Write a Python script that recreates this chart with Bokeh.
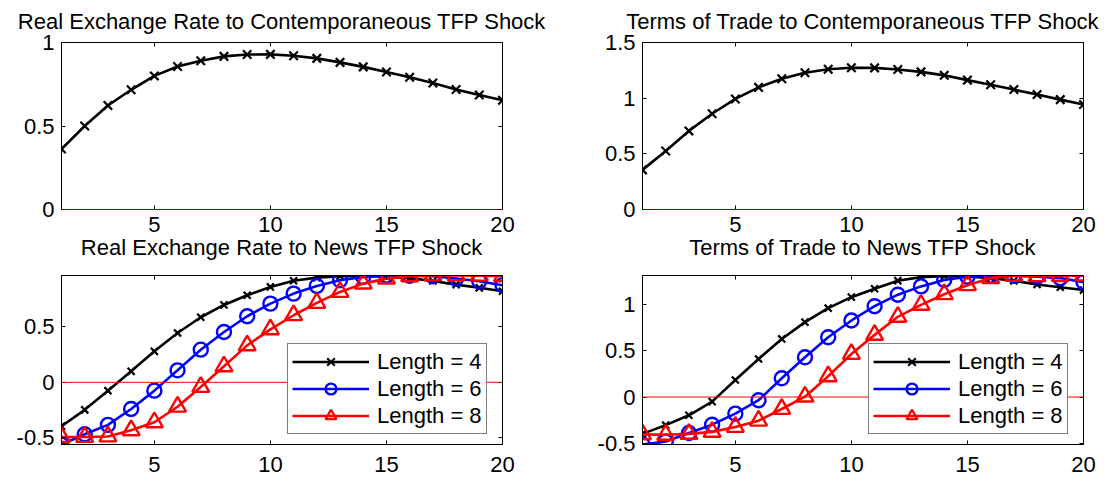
from bokeh.plotting import figure
from bokeh.layouts import column, row
from bokeh.models import (Range1d, FixedTicker, LinearAxis, NumeralTickFormatter, Title,
                          Span, Legend, LegendItem, CustomLabelingPolicy)
from bokeh.embed import file_html
from bokeh.resources import INLINE

# ---- data -------------------------------------------------------------
horizon = list(range(1, 21))

rer_contemp = [0.362, 0.500, 0.623, 0.717, 0.800, 0.856, 0.891, 0.917, 0.928, 0.929,
               0.921, 0.905, 0.881, 0.854, 0.823, 0.792, 0.757, 0.719, 0.686, 0.654]
tot_contemp = [0.356, 0.525, 0.706, 0.860, 0.993, 1.097, 1.174, 1.228, 1.260, 1.273,
               1.272, 1.257, 1.236, 1.205, 1.162, 1.121, 1.077, 1.032, 0.987, 0.943]

rer_news_l4 = [-0.395, -0.248, -0.075, 0.099, 0.279, 0.444, 0.586, 0.697, 0.784, 0.859,
               0.915, 0.943, 0.955, 0.957, 0.951, 0.938, 0.913, 0.880, 0.851, 0.820]
rer_news_l6 = [-0.560, -0.468, -0.383, -0.240, -0.075, 0.108, 0.294, 0.453, 0.595, 0.709,
               0.799, 0.868, 0.919, 0.948, 0.960, 0.960, 0.955, 0.935, 0.910, 0.875]
rer_news_l8 = [-0.492, -0.492, -0.488, -0.432, -0.360, -0.220, -0.042, 0.144, 0.333, 0.477,
               0.604, 0.715, 0.814, 0.889, 0.934, 0.955, 0.962, 0.962, 0.960, 0.955]

tot_news_l4 = [-0.400, -0.305, -0.198, -0.050, 0.185, 0.413, 0.630, 0.812, 0.964, 1.083,
               1.174, 1.262, 1.300, 1.310, 1.308, 1.290, 1.260, 1.220, 1.190, 1.160]
tot_news_l6 = [-0.515, -0.482, -0.390, -0.300, -0.180, -0.035, 0.203, 0.431, 0.649, 0.830,
               0.985, 1.110, 1.200, 1.270, 1.305, 1.316, 1.315, 1.305, 1.290, 1.246]
tot_news_l8 = [-0.405, -0.410, -0.400, -0.378, -0.325, -0.257, -0.130, 0.004, 0.225, 0.467,
               0.674, 0.870, 1.000, 1.115, 1.213, 1.290, 1.315, 1.310, 1.312, 1.318]

x_ticks = [5, 10, 15, 20]
legend_labels = ["Length = 4", "Length = 6", "Length = 8"]

FONT = "Liberation Sans"
FS = "22px"


def title_box(text, standoff):
    return Title(text=text, align="center", vertical_align="top", standoff=standoff,
                 text_font=FONT, text_font_size=FS, text_font_style="normal",
                 text_color="black")


def make_panel(ylo, yhi, yticks, width, height, left, right, top, bottom, xlabel_gap):
    p = figure(width=width, height=height, x_range=Range1d(1, 20), y_range=Range1d(ylo, yhi),
               output_backend="svg", toolbar_location=None,
               min_border_left=left, min_border_right=right,
               min_border_top=top, min_border_bottom=bottom)
    p.xgrid.visible = False
    p.ygrid.visible = False
    p.outline_line_color = "black"
    p.outline_line_width = 1
    p.background_fill_color = "white"
    p.border_fill_color = "white"

    p.xaxis.ticker = FixedTicker(ticks=x_ticks)
    p.yaxis.ticker = FixedTicker(ticks=yticks)
    p.yaxis.formatter = NumeralTickFormatter(format="0.[0]")
    for ax in (p.xaxis[0], p.yaxis[0]):
        ax.major_tick_in = 4
        ax.major_tick_out = 0
        ax.minor_tick_line_color = None
        ax.axis_line_color = "black"
        ax.major_tick_line_color = "black"
        ax.major_label_text_font = FONT
        ax.major_label_text_font_size = FS
        ax.major_label_text_color = "black"
    p.xaxis.major_label_standoff = xlabel_gap
    p.yaxis.major_label_standoff = 7

    # mirrored tick marks on the right and top edges, without labels
    for side, ticks in (("right", yticks), ("above", x_ticks)):
        ax = LinearAxis(ticker=FixedTicker(ticks=ticks), major_tick_in=4, major_tick_out=0,
                        minor_tick_line_color=None, axis_line_color="black",
                        major_label_overrides={t: "" for t in ticks},
                        major_label_policy=CustomLabelingPolicy(code="return []"),
                        major_label_standoff=0)
        p.add_layout(ax, side)

    p.add_layout(Span(location=0, dimension="width", line_color="#ff0000", line_width=1))
    return p


def add_series(p, values, color, marker, size, lw=2.6, mlw=2.2):
    ln = p.line(horizon, values, line_color=color, line_width=lw)
    mk = p.scatter(horizon, values, marker=marker, size=size, line_color=color,
                   fill_color=None, line_width=mlw)
    return [ln, mk]


def add_legend(p, items):
    leg = Legend(items=[LegendItem(label=lab, renderers=r) for lab, r in zip(legend_labels, items)],
                 location=(226, 10), border_line_color="black", border_line_width=1.5,
                 background_fill_color="white", background_fill_alpha=1.0,
                 padding=4, spacing=0, margin=0, glyph_height=27, glyph_width=77,
                 label_standoff=8, label_text_font=FONT, label_text_font_size=FS,
                 label_text_color="black")
    p.add_layout(leg)


# ---- top row: contemporaneous shock ----------------------------------
# (the news-shock titles sit in the bottom margin of the top row)
p1 = make_panel(0, 1, [0, 0.5, 1], 560, 270, 61, 58, 42, 61, 7)
p1.add_layout(title_box("Real Exchange Rate to Contemporaneous TFP Shock", 14), "above")
p1.add_layout(title_box("Real Exchange Rate to News TFP Shock", 0), "below")
add_series(p1, rer_contemp, "black", "x", 12)

p2 = make_panel(0, 1.5, [0, 0.5, 1, 1.5], 559, 270, 82, 36, 42, 61, 7)
p2.add_layout(title_box("Terms of Trade to Contemporaneous TFP Shock", 14), "above")
p2.add_layout(title_box("Terms of Trade to News TFP Shock", 0), "below")
add_series(p2, tot_contemp, "black", "x", 12)

# ---- bottom row: news shock ------------------------------------------
rer_all = rer_news_l4 + rer_news_l6 + rer_news_l8
p3 = make_panel(min(rer_all), max(rer_all), [-0.5, 0, 0.5], 560, 210, 61, 58, 5, 36, 12)
r4 = add_series(p3, rer_news_l4, "black", "x", 10)
r6 = add_series(p3, rer_news_l6, "#0000ff", "circle", 14, mlw=2.4)
r8 = add_series(p3, rer_news_l8, "#ff0000", "triangle", 17, mlw=2.4)
add_legend(p3, [r4, r6, r8])

tot_all = tot_news_l4 + tot_news_l6 + tot_news_l8
p4 = make_panel(min(tot_all), max(tot_all), [-0.5, 0, 0.5, 1], 559, 210, 82, 36, 5, 36, 12)
t4 = add_series(p4, tot_news_l4, "black", "x", 10)
t6 = add_series(p4, tot_news_l6, "#0000ff", "circle", 14, mlw=2.4)
t8 = add_series(p4, tot_news_l8, "#ff0000", "triangle", 17, mlw=2.4)
add_legend(p4, [t4, t6, t8])

layout = column(row(p1, p2), row(p3, p4))

with open("out.html", "w") as f:
    f.write(file_html(layout, INLINE))
